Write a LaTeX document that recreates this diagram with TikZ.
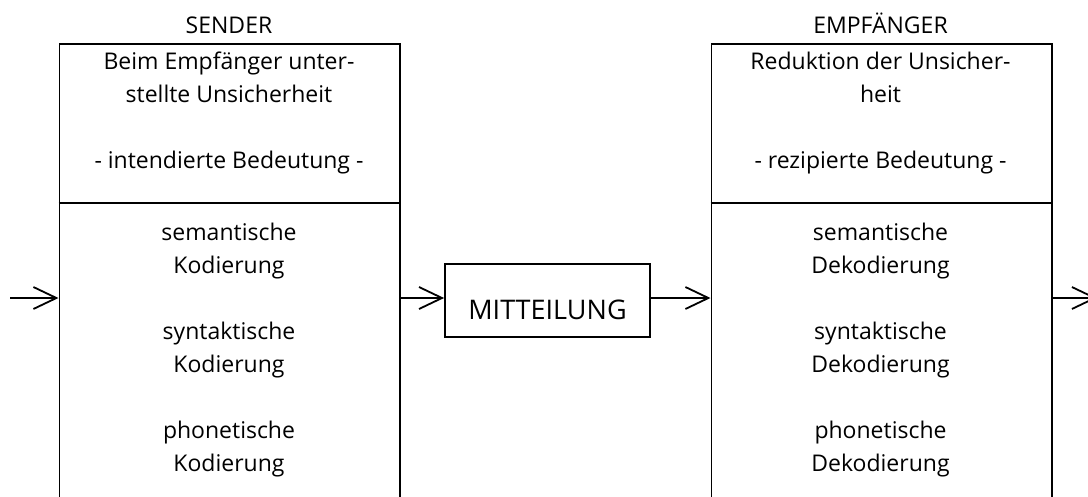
\documentclass[tikz,border=0pt]{standalone}
\usepackage{fontspec}
\setmainfont{Open Sans}
\usetikzlibrary{arrows.meta}
\begin{document}
\begin{tikzpicture}[x=1pt, y=-1pt,
  frame/.style={draw, line width=1.8pt, rectangle, inner sep=0pt,
    minimum width=340.5pt, minimum height=500pt, anchor=north west},
  % multi-line blocks are placed by the baseline of their last line
  txt/.style={align=center, inner sep=0pt, anchor=base,
    font=\fontsize{23}{33}\selectfont},
  msgbox/.style={draw, line width=1.8pt, rectangle, inner sep=0pt,
    minimum width=205pt, minimum height=73pt, text height=37pt, text depth=0pt,
    font=\fontsize{27}{30}\selectfont},
  rule/.style={line width=1.8pt},
  flow/.style={line width=1.8pt, -{Straight Barb[length=23pt, width=22pt]}}]
\useasboundingbox (0,0) rectangle (1088,496);

% the two stations (open at the bottom)
\node[frame] (snd) at (58.5,43) {};
\node[frame] (rcv) at (710.5,43) {};
\draw[rule] (snd.west |- 0,203) -- (snd.east |- 0,203);
\draw[rule] (rcv.west |- 0,203) -- (rcv.east |- 0,203);

% headings
\node[txt] (sndT) at (229,33) {SENDER};
\node[txt] (rcvT) at (880.5,33) {EMPFÄNGER};

% upper compartments
\node[txt] (sndA) at (229,168) {Beim Empfänger unter-\\stellte Unsicherheit\\[33pt]- intendierte Bedeutung -};
\node[txt] (rcvA) at (880.5,168) {Reduktion der Unsicher-\\heit\\[33pt]- rezipierte Bedeutung -};

% lower compartments
\node[txt] (sndB) at (229,471) {semantische\\Kodierung\\[33pt]syntaktische\\Kodierung\\[33pt]phonetische\\Kodierung};
\node[txt] (rcvB) at (880.5,471) {semantische\\Dekodierung\\[33pt]syntaktische\\Dekodierung\\[33pt]phonetische\\Dekodierung};

% message
\node[msgbox] (msg) at (547.5,300.5) {MITTEILUNG};

% flow
\coordinate (src) at (10,298);
\coordinate (snk) at (1097,298);
\draw[flow] (src) -- (src -| snd.west);
\draw[flow] (snd.east |- src) -- (msg.west |- src);
\draw[flow] (msg.east |- src) -- (rcv.west |- src);
\draw[flow] (rcv.east |- src) -- (snk);
\end{tikzpicture}
\end{document}
